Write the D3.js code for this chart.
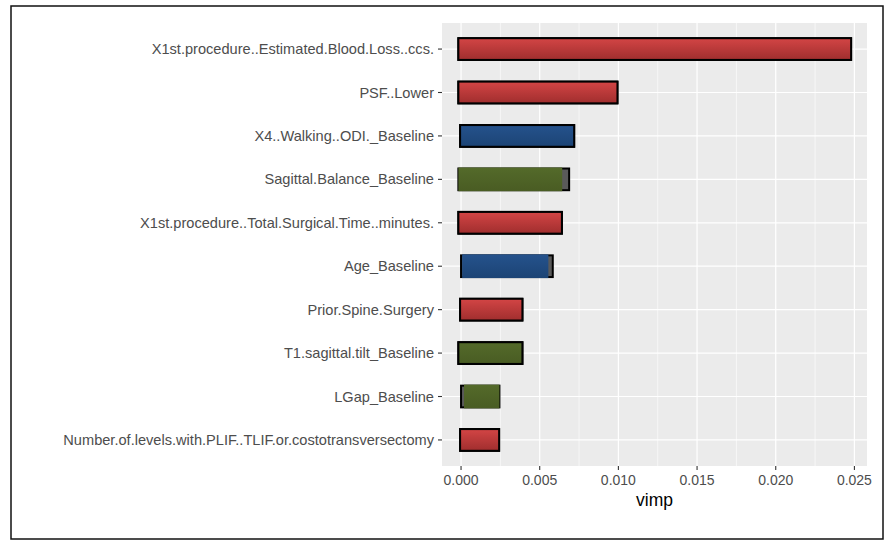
<!DOCTYPE html>
<html>
<head>
<meta charset="utf-8">
<script src="https://cdn.jsdelivr.net/npm/d3@7"></script>
<style>
  body { margin: 0; background: #fff; }
  text { font-family: "Liberation Sans", Arial, sans-serif; }
</style>
</head>
<body>
<div id="chart"></div>
<script>
// variables, top to bottom
const labels = [
    "X1st.procedure..Estimated.Blood.Loss..ccs.",
    "PSF..Lower",
    "X4..Walking..ODI._Baseline",
    "Sagittal.Balance_Baseline",
    "X1st.procedure..Total.Surgical.Time..minutes.",
    "Age_Baseline",
    "Prior.Spine.Surgery",
    "T1.sagittal.tilt_Baseline",
    "LGap_Baseline",
    "Number.of.levels.with.PLIF..TLIF.or.costotransversectomy"
];
// full bar extent (outlined, grey underneath)
const barStart = [-0.00017, -0.00017, -0.00006, -0.00017, -0.00017, 0.00000, -0.00006, -0.00017, 0.00000, -0.00006];
const barEnd   = [0.02479, 0.00994, 0.00719, 0.00687, 0.00641, 0.00583, 0.00390, 0.00390, 0.00244, 0.00242];
// coloured part of the bar
const fillStart = [-0.00017, -0.00017, -0.00006, -0.00017, -0.00017, 0.00007, -0.00006, -0.00017, 0.00019, -0.00006];
const fillEnd   = [0.02479, 0.00994, 0.00719, 0.00643, 0.00641, 0.00555, 0.00390, 0.00390, 0.00244, 0.00242];
const groups = ["red", "red", "blue", "green", "red", "blue", "red", "green", "green", "red"];
const xTicks = [0, 0.005, 0.01, 0.015, 0.02, 0.025];
const xMinor = [0.0025, 0.0075, 0.0125, 0.0175, 0.0225];

const gradColors = {
    red:   ["#d34545", "#a02e2e"],
    blue:  ["#25528c", "#1c4475"],
    green: ["#546a2a", "#495c23"]
};

const W = 888, H = 540;
const panel = {left: 442, right: 867, top: 23, bottom: 466};

const svg = d3.select("#chart").append("svg")
    .attr("width", W)
    .attr("height", H);

// gradients
const defs = svg.append("defs");
Object.keys(gradColors).forEach(function (k) {
    let g = defs.append("linearGradient")
        .attr("id", "grad-" + k)
        .attr("x1", 0).attr("y1", 0).attr("x2", 0).attr("y2", 1);
    g.append("stop").attr("offset", "0%").attr("stop-color", gradColors[k][0]);
    g.append("stop").attr("offset", "100%").attr("stop-color", gradColors[k][1]);
});

// outer frame
svg.append("rect")
    .attr("x", 11).attr("y", 6)
    .attr("width", 872).attr("height", 533)
    .attr("fill", "none")
    .attr("stroke", "#111")
    .attr("stroke-width", 1.5);

const x = d3.scaleLinear()
    .domain([-0.00121, 0.0258])
    .range([panel.left, panel.right]);

const y = d3.scalePoint()
    .domain(labels)
    .range([panel.top, panel.bottom])
    .padding(0.6);

const barH = y.step() * 0.5;

// panel background
svg.append("rect")
    .attr("x", panel.left).attr("y", panel.top)
    .attr("width", panel.right - panel.left)
    .attr("height", panel.bottom - panel.top)
    .attr("fill", "#ebebeb");

// grid
svg.selectAll(".minor").data(xMinor).enter().append("line")
    .attr("x1", d => x(d)).attr("x2", d => x(d))
    .attr("y1", panel.top).attr("y2", panel.bottom)
    .attr("stroke", "#fff").attr("stroke-width", 0.6);

svg.selectAll(".major").data(xTicks).enter().append("line")
    .attr("x1", d => x(d)).attr("x2", d => x(d))
    .attr("y1", panel.top).attr("y2", panel.bottom)
    .attr("stroke", "#fff").attr("stroke-width", 1.2);

svg.selectAll(".hgrid").data(labels).enter().append("line")
    .attr("x1", panel.left).attr("x2", panel.right)
    .attr("y1", d => y(d)).attr("y2", d => y(d))
    .attr("stroke", "#fff").attr("stroke-width", 1.2);

// bars: grey outlined bar underneath, coloured bar on top
const bars = svg.selectAll(".bar").data(labels).enter().append("g");

bars.append("rect")
    .attr("x", (d, i) => x(barStart[i]))
    .attr("y", d => y(d) - barH / 2)
    .attr("width", (d, i) => x(barEnd[i]) - x(barStart[i]))
    .attr("height", barH)
    .attr("fill", "#5a5a5a")
    .attr("stroke", "#000")
    .attr("stroke-width", 2);

function whole(i) {
    return fillEnd[i] === barEnd[i] && fillStart[i] === barStart[i];
}

bars.append("rect")
    .attr("x", (d, i) => x(fillStart[i]))
    .attr("y", (d, i) => y(d) - barH / 2 - (whole(i) ? 0 : 1))
    .attr("width", (d, i) => x(fillEnd[i]) - x(fillStart[i]))
    .attr("height", (d, i) => barH + (whole(i) ? 0 : 2))
    .attr("fill", (d, i) => "url(#grad-" + groups[i] + ")")
    .attr("stroke", (d, i) => whole(i) ? "#000" : "none")
    .attr("stroke-width", 2);

// y axis ticks and labels
svg.selectAll(".ytick").data(labels).enter().append("line")
    .attr("x1", panel.left - 4).attr("x2", panel.left)
    .attr("y1", d => y(d)).attr("y2", d => y(d))
    .attr("stroke", "#333").attr("stroke-width", 1.1);

svg.selectAll(".ylab").data(labels).enter().append("text")
    .attr("x", panel.left - 8)
    .attr("y", d => y(d))
    .attr("dy", "0.35em")
    .attr("text-anchor", "end")
    .attr("font-size", 14.6)
    .attr("fill", "#4d4d4d")
    .text(d => d);

// x axis ticks and labels
svg.selectAll(".xtick").data(xTicks).enter().append("line")
    .attr("x1", d => x(d)).attr("x2", d => x(d))
    .attr("y1", panel.bottom).attr("y2", panel.bottom + 4)
    .attr("stroke", "#333").attr("stroke-width", 1.1);

svg.selectAll(".xlab").data(xTicks).enter().append("text")
    .attr("x", d => x(d))
    .attr("y", panel.bottom + 14)
    .attr("dy", "0.35em")
    .attr("text-anchor", "middle")
    .attr("font-size", 14)
    .attr("fill", "#4d4d4d")
    .text(d => d3.format(".3f")(d));

svg.append("text")
    .attr("x", (panel.left + panel.right) / 2)
    .attr("y", panel.bottom + 34)
    .attr("dy", "0.35em")
    .attr("text-anchor", "middle")
    .attr("font-size", 17.5)
    .attr("fill", "#000")
    .text("vimp");
</script>
</body>
</html>
